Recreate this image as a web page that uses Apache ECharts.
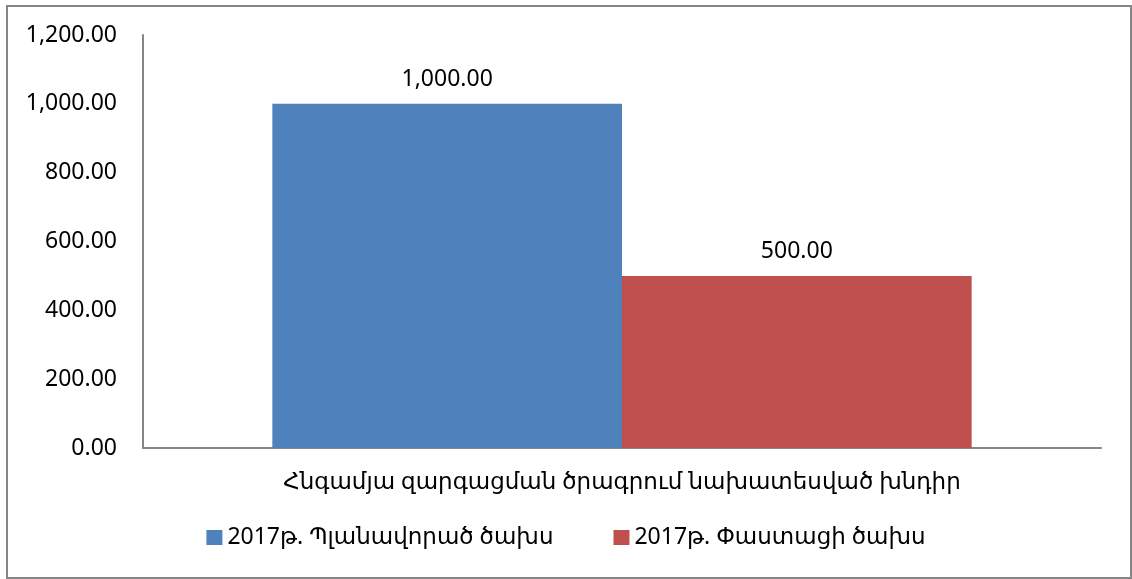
<!DOCTYPE html>
<html>
<head>
<meta charset="utf-8">
<script src="https://cdn.jsdelivr.net/npm/echarts@6/dist/echarts.min.js"></script>
<style>
  html, body { margin: 0; padding: 0; background: #fff; }
  #frame {
    position: absolute; left: 6px; top: 5px; width: 1122px; height: 570px;
    border: 2px solid #868686; box-sizing: content-box;
  }
  #chart { position: absolute; left: 0; top: 0; width: 1132px; height: 579px; }
</style>
</head>
<body>
<div id="frame"></div>
<div id="chart"></div>
<script>
// բյուջեի տվյալներ
const categories = ['Հնգամյա զարգացման ծրագրում նախատեսված խնդիր'];
const seriesNames = ['2017թ. Պլանավորած ծախս', '2017թ. Փաստացի ծախս'];
const plannedValues = [1000];
const actualValues = [500];
const colors = ['#4f81bd', '#c0504d'];

const fontFamily = "'Noto Sans', 'DejaVu Sans', sans-serif";
const fs = 23;

function fmt(v) {
    return Number(v).toLocaleString('en-US', { minimumFractionDigits: 2, maximumFractionDigits: 2 });
}

const chart = echarts.init(document.getElementById('chart'));

const option = {
    animation: false,
    textStyle: { fontFamily: fontFamily },
    grid: { left: 143, right: 31, top: 35, bottom: 131 },
    legend: {
        bottom: 25,
        left: 'center',
        itemWidth: 16,
        itemHeight: 15,
        itemGap: 60,
        icon: 'rect',
        textStyle: { fontSize: fs, color: '#000', fontFamily: fontFamily },
        data: seriesNames
    },
    xAxis: {
        type: 'category',
        data: categories,
        axisLine: { lineStyle: { color: '#868686', width: 2 } },
        axisTick: { show: false },
        axisLabel: { fontSize: fs, color: '#000', margin: 23 }
    },
    yAxis: {
        type: 'value',
        min: 0,
        max: 1200,
        interval: 200,
        axisLine: { show: true, lineStyle: { color: '#868686', width: 2 } },
        axisTick: { show: false },
        splitLine: { show: false },
        axisLabel: { fontSize: fs, color: '#000', margin: 26, formatter: fmt }
    },
    series: [
        {
            name: seriesNames[0],
            type: 'bar',
            data: plannedValues,
            barGap: '0%',
            barCategoryGap: '27%',
            itemStyle: { color: colors[0] },
            label: { show: true, position: 'top', distance: 13, fontSize: fs, color: '#000', formatter: p => fmt(p.value) }
        },
        {
            name: seriesNames[1],
            type: 'bar',
            data: actualValues,
            barGap: '0%',
            barCategoryGap: '27%',
            itemStyle: { color: colors[1] },
            label: { show: true, position: 'top', distance: 13, fontSize: fs, color: '#000', formatter: p => fmt(p.value) }
        }
    ]
};

chart.setOption(option);

window.addEventListener('resize', () => {
    chart.resize();
});
</script>
</body>
</html>
